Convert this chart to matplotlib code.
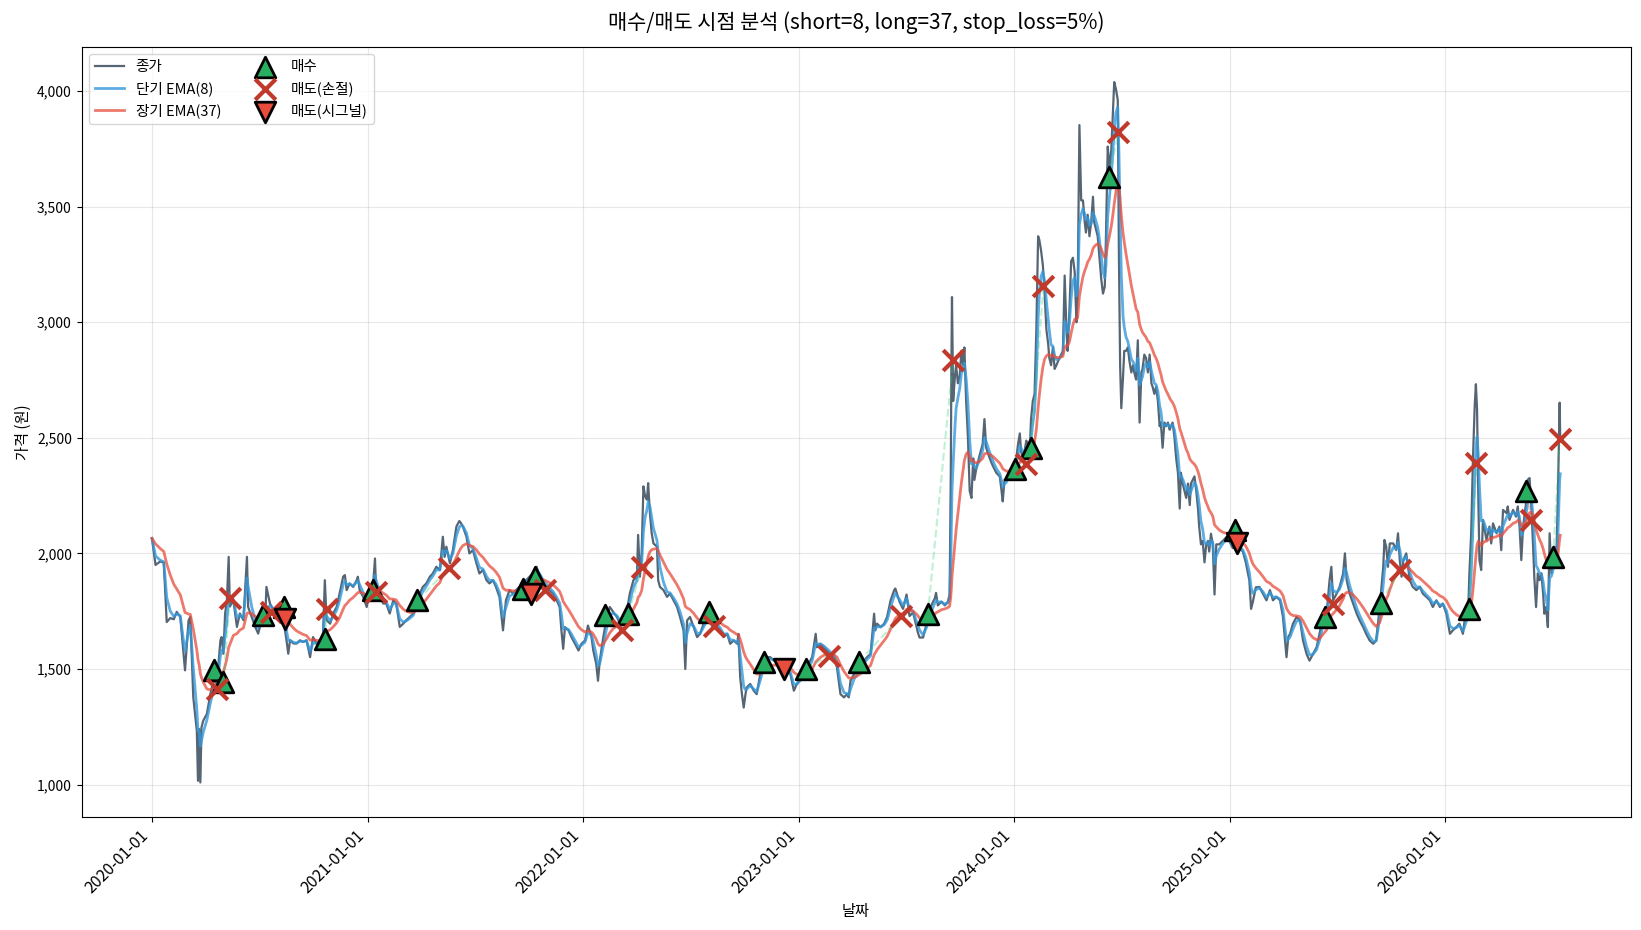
import numpy as np
import pandas as pd
import matplotlib
matplotlib.use('Agg')
import matplotlib.pyplot as plt
import matplotlib.dates as mdates
from matplotlib.ticker import FuncFormatter

plt.rcParams['font.family'] = ['Noto Sans CJK KR', 'DejaVu Sans']
plt.rcParams['axes.unicode_minus'] = False

# ---------------- data ----------------
start_date = '2020-01-01'
short_window = 8
long_window = 37
stop_loss_pct = 5

day_offsets = [
    0, 6, 14, 20, 25, 31, 37, 42, 48, 54,
    56, 62, 65, 70, 76, 78, 80, 82, 84, 87, 93,
    99, 104, 110, 116, 118, 121, 124, 127, 130, 132,
    138, 144, 149, 155, 161, 163, 169, 175, 180, 186,
    192, 194, 200, 206, 211, 217, 223, 228, 231, 234,
    240, 245, 251, 256, 262, 268, 273, 279, 285, 290,
    293, 296, 302, 307, 313, 318, 324, 327, 330, 335,
    341, 347, 349, 352, 358, 364, 369, 375, 378, 380,
    386, 392, 397, 403, 409, 414, 420, 426, 431, 437,
    443, 448, 454, 459, 465, 471, 476, 482, 488, 493,
    496, 499, 505, 510, 516, 521, 524, 527, 533, 538,
    544, 550, 555, 561, 567, 572, 578, 583, 589, 595,
    600, 606, 612, 617, 623, 629, 634, 640, 645,
    652, 657, 663, 669, 674, 680, 686, 691, 694, 697,
    700, 706, 711, 717, 723, 728, 734, 739, 745, 748,
    753, 756, 759, 765, 771, 776, 782, 788, 793, 799,
    805, 810, 816, 822, 824, 827, 830, 833, 836, 839,
    841, 844, 847, 850, 856, 858, 861, 867, 873, 878,
    884, 890, 895, 901, 904, 907, 912, 918, 924, 929,
    935, 941, 946, 952, 958, 963, 969, 975, 980, 986,
    992, 994, 997, 1000, 1003, 1006, 1008, 1014, 1020, 1025,
    1031, 1037, 1042, 1048, 1054, 1059, 1065, 1071, 1076, 1082,
    1088, 1093, 1102, 1108, 1113, 1119, 1125, 1127, 1133, 1139,
    1144, 1150, 1156, 1161, 1167, 1173, 1178, 1181, 1184, 1190,
    1195, 1201, 1207, 1212, 1218, 1224, 1226, 1229, 1235, 1241,
    1246, 1252, 1258, 1260,
    1267, 1273, 1279, 1284, 1290, 1296, 1298, 1301, 1307, 1313,
    1315, 1321, 1327, 1329, 1332, 1338, 1344, 1349, 1352, 1354,
    1355, 1356, 1358, 1361, 1363, 1366, 1369, 1372, 1375, 1377,
    1380, 1383, 1386, 1389, 1392, 1394, 1397, 1403, 1408, 1411,
    1414, 1420, 1425, 1431, 1437, 1440, 1442, 1445, 1448, 1454,
    1459, 1465, 1468, 1471, 1473, 1476, 1479, 1482, 1488, 1490,
    1493, 1496, 1499, 1502, 1504, 1507, 1510, 1513, 1516, 1519,
    1521, 1524, 1527, 1530, 1533, 1538, 1544, 1547, 1550, 1552,
    1555, 1558, 1561, 1564, 1567, 1569, 1572, 1575, 1578, 1581,
    1583, 1586, 1589, 1592, 1595, 1597, 1600, 1603, 1606, 1609,
    1612, 1615, 1617, 1620, 1623, 1626, 1629, 1631, 1634, 1637,
    1639, 1641, 1643, 1646, 1648, 1651, 1654, 1657, 1660, 1663,
    1665, 1668, 1671, 1674, 1677, 1679, 1682, 1685, 1688, 1691,
    1694, 1696, 1699, 1702, 1705, 1708, 1710, 1713, 1716, 1719,
    1722, 1725, 1727, 1730, 1733, 1736, 1739, 1742, 1744, 1747,
    1750, 1753, 1756, 1759, 1761, 1764, 1767, 1770, 1773, 1775,
    1778, 1781, 1784, 1787, 1790, 1792, 1795, 1798, 1801, 1804,
    1809, 1815, 1821, 1826, 1832, 1838, 1843, 1849, 1854, 1860,
    1863, 1866, 1871, 1877,
    1883, 1889, 1895, 1900, 1906, 1912, 1917, 1923, 1926, 1929,
    1934, 1940, 1946, 1951, 1957, 1962, 1968, 1974, 1979, 1985,
    1991, 1996, 1999, 2002, 2008, 2013, 2019, 2022, 2025, 2030,
    2036, 2042, 2047, 2053, 2058, 2064, 2070, 2075, 2081, 2087,
    2089, 2092, 2095, 2098, 2104, 2109, 2112, 2115, 2118, 2121,
    2126, 2132, 2137, 2143, 2149, 2154, 2160, 2166, 2171, 2177,
    2183, 2188, 2194, 2200, 2205, 2211, 2216, 2222, 2225, 2228,
    2231, 2233, 2236, 2239, 2242, 2244, 2246, 2248, 2250, 2253,
    2256, 2259, 2262, 2267, 2270, 2273, 2279, 2284, 2287, 2290,
    2296, 2298, 2301, 2307, 2312, 2315, 2318, 2321, 2324, 2329,
    2332, 2335, 2338, 2341, 2343, 2346, 2349, 2352, 2355, 2358,
    2360, 2363, 2366, 2369, 2372, 2375, 2377, 2380, 2383, 2386,
    2387,
]

close_prices = [
    2065, 1950, 1965, 1960, 1703, 1720, 1715, 1747, 1725, 1550,
    1494, 1710, 1725, 1378, 1233, 1016, 1240, 1009, 1248, 1277, 1305,
    1392, 1450, 1436, 1624, 1638, 1566, 1740, 1797, 1985, 1770,
    1797, 1682, 1740, 1711, 1985, 1768, 1725, 1682, 1653, 1711,
    1725, 1855, 1783, 1754, 1740, 1768, 1711, 1624, 1566, 1624,
    1610, 1610, 1624, 1617, 1624, 1551, 1638, 1610, 1624, 1653,
    1884, 1711, 1696, 1740, 1768, 1826, 1899, 1906, 1841, 1870,
    1855, 1884, 1899, 1841, 1812, 1768, 1855, 1870, 1978, 1826,
    1812, 1783, 1783, 1740, 1797, 1783, 1682, 1696, 1711, 1725,
    1740, 1797, 1826, 1855, 1870, 1899, 1913, 1942, 1928, 2072,
    1985, 2029, 1957, 2014, 2116, 2140, 2130, 2116, 2072, 2000,
    2014, 1957, 1913, 1928, 1884, 1870, 1884, 1855, 1812, 1667,
    1797, 1841, 1826, 1841, 1855, 1870, 1884, 1899, 1913,
    1942, 1899, 1870, 1855, 1841, 1826, 1797, 1768, 1667, 1587,
    1681, 1667, 1638, 1609, 1580, 1609, 1623, 1688, 1638, 1580,
    1522, 1449, 1536, 1638, 1725, 1768, 1746, 1725, 1696, 1710,
    1754, 1826, 1884, 1899, 2080, 1899, 2000, 2290, 2246, 2232,
    2304, 2174, 2087, 2043, 2029, 1884, 1855, 1841, 1812, 1826,
    1797, 1768, 1725, 1667, 1500, 1710, 1725, 1681, 1638, 1652,
    1696, 1725, 1754, 1710, 1681, 1667, 1638, 1652, 1609, 1623,
    1609, 1652, 1464, 1391, 1333, 1391, 1420, 1435, 1406, 1391,
    1478, 1536, 1551, 1551, 1536, 1536, 1522, 1507, 1493, 1478,
    1406, 1435, 1464, 1493, 1522, 1551, 1652, 1594, 1609, 1594,
    1580, 1565, 1551, 1507, 1391, 1377, 1391, 1377, 1449, 1478,
    1493, 1522, 1536, 1551, 1565, 1739, 1667, 1696, 1681, 1696,
    1725, 1797, 1841, 1848,
    1791, 1760, 1822, 1729, 1744, 1682, 1659, 1636, 1636, 1698,
    1729, 1775, 1806, 1829, 1775, 1791, 1775, 1791, 1822, 2349,
    2814, 3109, 2659, 2767, 2814, 2736, 2767, 2876, 2814, 2891,
    2659, 2504, 2271, 2240, 2411, 2318, 2364, 2426, 2473, 2581,
    2457, 2411, 2380, 2349, 2333, 2271, 2225, 2318, 2318, 2349,
    2364, 2411, 2473, 2519, 2442, 2411, 2442, 2488, 2457, 2581,
    2659, 2690, 2969, 3372, 3357, 3310, 3248, 3124, 2969, 2907,
    2845, 2814, 2891, 2798, 2814, 2845, 2876, 3202, 2969, 2876,
    3047, 3264, 3279, 3217, 3000, 3124, 3853, 3527, 3527, 3434,
    3388, 3465, 3372, 3434, 3543, 3434, 3403, 3372, 3279, 3186,
    3124, 3155, 3372, 3760, 3667, 3744, 3915, 4039, 4008, 3961,
    3279, 2814, 2628, 2767, 2876, 2876, 2891, 2829, 2783, 2814,
    2783, 2752, 2922, 2566, 2783, 2798, 2860, 2845, 2783, 2860,
    2736, 2721, 2690, 2721, 2659, 2550, 2566, 2457, 2566, 2550,
    2566, 2535, 2550, 2566, 2504, 2411, 2349, 2194, 2349, 2302,
    2271, 2240, 2302, 2209, 2302, 2318, 2333, 2271, 2194, 2116,
    2039, 2054, 1961, 2039, 2054, 2008, 2085, 2039, 1822, 2039,
    2039, 2054, 2070, 2054, 2023, 2039, 2023, 2008, 1961, 1884,
    1760, 1791, 1853, 1855,
    1826, 1797, 1841, 1797, 1812, 1797, 1725, 1551, 1638, 1652,
    1696, 1725, 1710, 1623, 1565, 1536, 1565, 1594, 1652, 1725,
    1739, 1884, 1942, 1797, 1826, 1855, 1913, 2000, 1884, 1826,
    1783, 1739, 1710, 1681, 1652, 1623, 1609, 1623, 1768, 1942,
    2058, 2029, 1942, 2043, 2043, 2014, 2087, 1971, 1899, 1971,
    2000, 1884, 1855, 1841, 1855, 1826, 1812, 1797, 1768, 1797,
    1768, 1783, 1739, 1652, 1667, 1681, 1696, 1652, 1710, 1739,
    1754, 1913, 2087, 2406, 2638, 2732, 2623, 2261, 1971, 1928,
    2145, 2101, 2058, 2116, 2043, 2130, 2087, 2116, 2014, 2188,
    2174, 2203, 2145, 2188, 2159, 2203, 2116, 1971, 2116, 2217,
    2319, 2326, 2203, 2029, 1899, 1768, 1913, 1884, 1913, 1826,
    1739, 1768, 1681, 2087, 1913, 1971, 2029, 1942, 2246, 2652,
    2493,
]

buy_days = [105, 121, 188, 224, 293, 375, 449, 629, 649, 768, 807, 944, 1038,
            1108, 1198, 1315, 1462, 1490, 1622, 1835, 1988, 2083, 2232, 2329, 2375]
buy_prices = [1494, 1443, 1732, 1768, 1631, 1841, 1797, 1848, 1899, 1732, 1739, 1746, 1529,
              1500, 1529, 1736, 2364, 2457, 3628, 2101, 1725, 1786, 1761, 2268, 1986]

stop_days = [110, 132, 202, 297, 380, 504, 666, 796, 831, 952, 1147,
             1269, 1358, 1481, 1511, 1638, 2002, 2115, 2245, 2338, 2386]
stop_prices = [1414, 1805, 1747, 1761, 1834, 1935, 1841, 1667, 1942, 1688, 1558,
               1728, 2837, 2388, 3155, 3822, 1783, 1928, 2391, 2145, 2493]

signal_days = [226, 643, 1072, 1839]
signal_prices = [1718, 1826, 1500, 2047]

# ---------------- computation ----------------
assert len(day_offsets) == len(close_prices)
base = pd.Timestamp(start_date)
dates = base + pd.to_timedelta(day_offsets, unit='D')
close = np.array(close_prices, dtype=float)
days = np.array(day_offsets, dtype=float)


def ema_time(values, t, span):
    # EMA on trading days, applied to irregularly spaced calendar-day samples
    alpha = 2.0 / (span + 1)
    k = -np.log(1 - alpha) * 5.0 / 7.0
    out = np.empty(len(values))
    out[0] = values[0]
    for i in range(1, len(values)):
        w = 1 - np.exp(-k * (t[i] - t[i - 1]))
        out[i] = out[i - 1] + w * (values[i] - out[i - 1])
    return out


ema_s = ema_time(close, days, short_window)
ema_l = ema_time(close, days, long_window)

buy_dates = base + pd.to_timedelta(buy_days, unit='D')
stop_dates = base + pd.to_timedelta(stop_days, unit='D')
sig_dates = base + pd.to_timedelta(signal_days, unit='D')

# ---------------- plot ----------------
fig = plt.figure(figsize=(16.41, 9.30), dpi=100)
ax = fig.add_axes([0.0497, 0.121, 0.944, 0.8284])

ax.plot(dates, close, color='#2c3e50', alpha=0.8, lw=1.6, label='종가')
ax.plot(dates, ema_s, color='#3498db', alpha=0.8, lw=2.0, label=f'단기 EMA({short_window})')
ax.plot(dates, ema_l, color='#e74c3c', alpha=0.75, lw=2.0, label=f'장기 EMA({long_window})')

# trade connectors
events = sorted([(d, p, 'b') for d, p in zip(buy_dates, buy_prices)] +
                [(d, p, 's') for d, p in zip(stop_dates, stop_prices)] +
                [(d, p, 's') for d, p in zip(sig_dates, signal_prices)], key=lambda e: e[0])
open_trade = None
for d, p, kind in events:
    if kind == 'b':
        open_trade = (d, p)
    elif open_trade is not None:
        col = '#2ecc71' if p >= open_trade[1] else '#e74c3c'
        ax.plot([open_trade[0], d], [open_trade[1], p], ls='--', color=col, alpha=0.3, lw=1.5)
        open_trade = None

ax.scatter(buy_dates, buy_prices, marker='^', s=220, color='#27ae60',
           edgecolors='black', linewidths=2, zorder=5, label='매수')
ax.scatter(stop_dates, stop_prices, marker='x', s=220, color='#c0392b',
           linewidths=3, zorder=5, label='매도(손절)')
ax.scatter(sig_dates, signal_prices, marker='v', s=220, color='#e74c3c',
           edgecolors='black', linewidths=2, zorder=5, label='매도(시그널)')

ax.set_title(f'매수/매도 시점 분석 (short={short_window}, long={long_window}, stop_loss={stop_loss_pct}%)',
             fontsize=15, pad=13)
ax.set_xlabel('날짜', fontsize=11)
ax.set_ylabel('가격 (원)', fontsize=11)
ax.grid(True, alpha=0.3)
ax.yaxis.set_major_formatter(FuncFormatter(lambda v, _: f'{v:,.0f}'))
ax.xaxis.set_major_locator(mdates.YearLocator())
ax.xaxis.set_major_formatter(mdates.DateFormatter('%Y-%m-%d'))
ax.tick_params(axis='y', labelsize=10)
ax.tick_params(axis='x', labelsize=11.5)
plt.setp(ax.get_xticklabels(), rotation=45, ha='right')
ax.legend(loc='upper left', ncol=2, fontsize=10.5)

fig.savefig('out.png', dpi=100)
